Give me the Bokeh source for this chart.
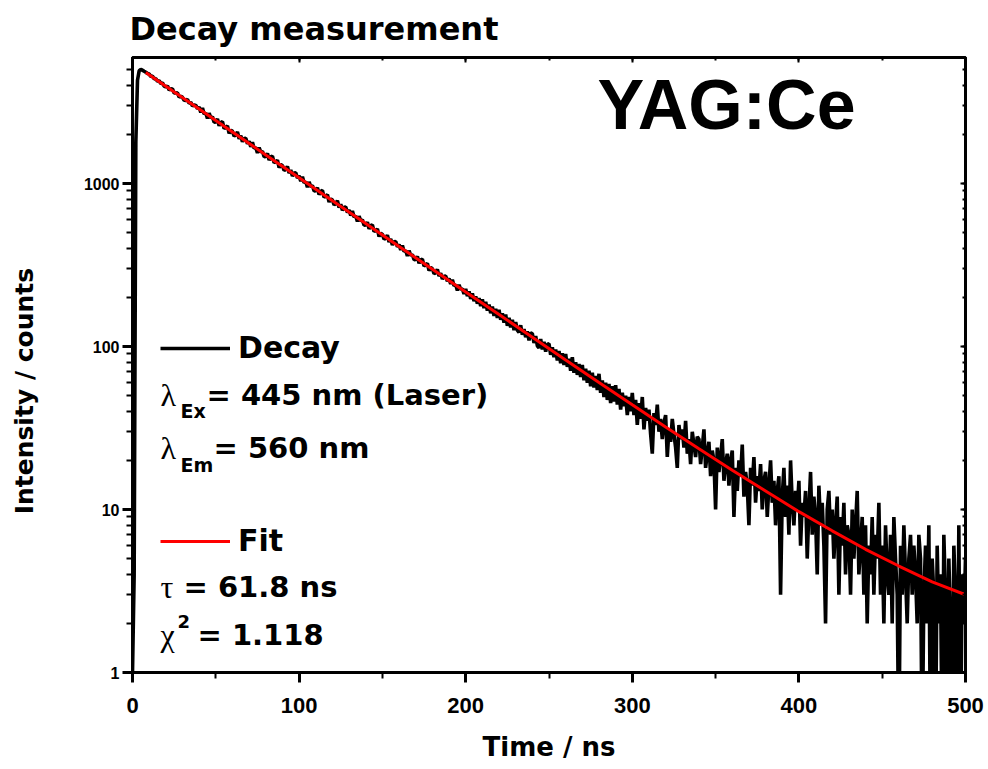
import numpy as np
from bokeh.plotting import figure
from bokeh.models import (Range1d, LinearAxis, LogAxis, Label, Legend, LegendItem,
                          SingleIntervalTicker, LogTicker, PrintfTickFormatter)
from bokeh.embed import file_html
from bokeh.resources import INLINE

# ---- data ----
# measured decay, counts per 1 ns channel, starting at t = 0 ns
decay_counts = [
    1, 4, 1800, 4300, 4920, 5010, 4960, 4880, 4810, 4730,
    4700, 4530, 4560, 4380, 4400, 4230, 4270, 4110, 4140, 3960,
    3913, 3968, 3749, 3805, 3797, 3590, 3589, 3601, 3388, 3436,
    3379, 3242, 3238, 3284, 3103, 3147, 2992, 3032, 3014, 2879,
    2946, 2730, 2906, 2671, 2707, 2505, 2701, 2528, 2564, 2375,
    2384, 2490, 2261, 2365, 2394, 2176, 2209, 2260, 2032, 2126,
    2090, 1955, 1983, 2071, 1881, 1965, 1804, 1885, 1892, 1754,
    1813, 1680, 1789, 1643, 1665, 1542, 1662, 1556, 1578, 1461,
    1467, 1532, 1391, 1456, 1473, 1339, 1359, 1390, 1250, 1308,
    1287, 1204, 1221, 1275, 1158, 1210, 1111, 1161, 1165, 1080,
    1115, 1034, 1100, 1011, 1025, 949, 1022, 957, 971, 900,
    903, 942, 855, 896, 906, 824, 836, 855, 770, 805,
    792, 740, 751, 784, 713, 745, 684, 714, 717, 664,
    687, 636, 678, 623, 631, 584, 630, 590, 598, 554,
    556, 580, 527, 551, 558, 507, 515, 526, 473, 495,
    487, 455, 462, 482, 438, 457, 420, 439, 441, 409,
    422, 391, 417, 383, 388, 359, 387, 362, 367, 341,
    342, 357, 324, 340, 343, 312, 317, 324, 292, 305,
    300, 280, 284, 297, 270, 282, 259, 270, 271, 252,
    261, 242, 257, 236, 239, 221, 239, 224, 226, 210,
    226, 204, 218, 196, 212, 190, 203, 183, 198, 177,
    195, 172, 188, 166, 181, 160, 176, 154, 170, 150,
    168, 146, 160, 140, 157, 134, 150, 131, 146, 126,
    141, 126, 122, 135, 118, 128, 114, 124, 109, 121,
    120, 105, 116, 101, 98, 111, 96, 107, 93, 103,
    104, 89, 99, 86, 96, 82, 94, 79, 91, 77,
    90, 75, 84, 71, 86, 69, 80, 67, 78, 65,
    77, 62, 73, 60, 71, 57, 69, 56, 66, 54,
    68, 52, 62, 49, 60, 47, 59, 45, 57, 46,
    58, 44, 55, 41, 52, 43, 50, 38, 49, 40,
    52, 38, 47, 33, 45, 36, 49, 31, 42, 35,
    41, 29, 22, 39, 33, 44, 30, 36, 27, 34,
    38, 21, 31, 26, 36, 29, 24, 18, 33, 27,
    31, 24, 35, 22, 27, 19, 30, 25, 21, 28,
    27, 19, 24, 31, 18, 22, 26, 16, 23, 20,
    10, 24, 17, 21, 27, 15, 19, 22, 14, 20,
    23, 9, 18, 13, 20, 16, 25, 12, 17, 14,
    8, 18, 14, 21, 11, 16, 13, 19, 10, 15,
    17, 9, 14, 20, 11, 15, 8, 13, 16, 3,
    12, 18, 9, 14, 7, 20, 11, 8, 13, 10,
    15, 6, 11, 9, 13, 5, 10, 17, 7, 12,
    9, 4, 14, 8, 11, 6, 2, 10, 13, 7,
    10, 5, 8, 12, 3, 9, 6, 11, 4, 8,
    7, 3, 10, 5, 8, 13, 4, 6, 9, 3,
    8, 2, 6, 4, 9, 3, 7, 5, 11, 3,
    6, 2, 8, 4, 3, 7, 2, 9, 5, 3,
    0, 6, 3, 8, 4, 2, 5, 7, 3, 6,
    4, 2, 7, 5, 0, 3, 6, 2, 8, 0,
    5, 3, 0, 6, 2, 4, 0, 7, 3, 0,
    5, 2, 0, 6, 3, 0, 8, 0, 4, 2,
    5,
]
channel_width_ns = 1.0
decay_time_ns = [i * channel_width_ns for i in range(len(decay_counts))]

# mono-exponential fit curve (tau = 61.8 ns)
fit_time_ns = [8, 20, 40, 60, 80, 100, 120, 140, 160, 180, 200, 220, 240, 260,
               280, 300, 320, 340, 360, 380, 400, 420, 440, 460, 480, 500]
fit_counts = [4800, 3954, 2861, 2070, 1498, 1084, 785, 568, 411, 298, 216, 157,
              114, 82.7, 60.2, 43.9, 32.1, 23.6, 17.4, 13.0, 9.7, 7.4, 5.7,
              4.5, 3.6, 3.0]

x_major_step = 100

# zero-count channels cannot be shown on a log axis: draw them below the frame
decay_plot = [c if c > 0 else 0.3 for c in decay_counts]

BOLD = "DejaVu Sans"
ARIAL = "Liberation Sans"
SERIF = "Liberation Serif"

X0, X1, Y0, Y1 = 0, 500, 1, 5930
FL, FR, FT, FB = 132, 965, 57, 672   # frame edges in page pixels

p = figure(width=988, height=769, y_axis_type="log",
           x_range=Range1d(X0, X1), y_range=Range1d(Y0, Y1),
           output_backend="svg", toolbar_location=None,
           min_border_left=FL, min_border_right=988 - FR,
           min_border_top=FT, min_border_bottom=769 - FB)
p.background_fill_color = "white"
p.border_fill_color = "white"
p.grid.visible = False
p.outline_line_color = "black"
p.outline_line_width = 3


def xd(px):
    return X0 + (px - FL) * (X1 - X0) / (FR - FL)


def yd(py):
    return 10 ** (np.log10(Y0) + (FB - py) * (np.log10(Y1) - np.log10(Y0)) / (FB - FT))


r_decay = p.line(decay_time_ns, decay_plot, line_color="black", line_width=3.6)
r_fit = p.line(fit_time_ns, fit_counts, line_color="#ff0000", line_width=3)

# bottom axis
xa = p.xaxis[0]
xa.ticker = SingleIntervalTicker(interval=x_major_step, num_minor_ticks=2)
xa.axis_label = "Time / ns"
xa.axis_label_text_font = BOLD
xa.axis_label_text_font_style = "bold"
xa.axis_label_text_font_size = "26px"
xa.axis_label_standoff = 16
xa.major_label_text_font = ARIAL
xa.major_label_text_font_style = "bold"
xa.major_label_text_font_size = "22px"
xa.major_label_standoff = 15

# left axis (trailing no-break spaces push the label a little below centre)
ya = p.yaxis[0]
ya.ticker = LogTicker(num_minor_ticks=10)
ya.formatter = PrintfTickFormatter(format="%d")
ya.axis_label = "Intensity / counts" + "\u00a0" * 6
ya.axis_label_text_font = BOLD
ya.axis_label_text_font_style = "bold"
ya.axis_label_text_font_size = "25px"
ya.axis_label_standoff = 42
ya.major_label_text_font = ARIAL
ya.major_label_text_font_style = "bold"
ya.major_label_text_font_size = "16px"
ya.major_label_standoff = 3

for ax in (xa, ya):
    ax.axis_line_width = 3
    ax.major_tick_line_width = 3
    ax.minor_tick_line_width = 2
    ax.major_tick_out = 10
    ax.major_tick_in = 0
    ax.minor_tick_out = 6
    ax.minor_tick_in = 0
    ax.major_label_text_color = "black"
    ax.axis_label_text_color = "black"

# mirrored axes with inward ticks (labels hidden)
top = LinearAxis(ticker=SingleIntervalTicker(interval=x_major_step, num_minor_ticks=2))
right = LogAxis(ticker=LogTicker(num_minor_ticks=10))
for ax in (top, right):
    ax.major_label_text_alpha = 0
    ax.major_label_text_font_size = "2px"
    ax.major_label_standoff = 0
    ax.axis_line_width = 3
    ax.major_tick_line_width = 2
    ax.minor_tick_line_width = 2
    ax.major_tick_in = 5
    ax.major_tick_out = 0
    ax.minor_tick_in = 3
    ax.minor_tick_out = 0
p.add_layout(top, "above")
p.add_layout(right, "right")

# title
p.title.text = "Decay measurement"
p.title.text_font = BOLD
p.title.text_font_style = "bold"
p.title.text_font_size = "32px"
p.title.text_color = "black"
p.title.align = "left"
p.title.vertical_align = "top"
p.title.standoff = 16
p.title.offset = -3

# legend
legend = Legend(items=[LegendItem(label="Decay", renderers=[r_decay]),
                       LegendItem(label="Fit", renderers=[r_fit])],
                location=(28, 114), orientation="vertical", spacing=158,
                padding=0, margin=0, glyph_width=70, glyph_height=20,
                label_standoff=8, label_text_font=BOLD, label_text_color="black",
                label_text_font_style="bold", label_text_font_size="30px",
                border_line_color=None, background_fill_alpha=0)
p.add_layout(legend)


def lab(px, py, text, size, font=BOLD, style="bold"):
    # px, py: where the text anchor sits on the page
    p.add_layout(Label(x=xd(px), y=yd(py), text=text, text_font=font,
                       text_font_style=style, text_font_size=size,
                       text_color="black", text_align="left",
                       text_baseline="alphabetic"))


lab(597, 104, "YAG:Ce", "70px", font=ARIAL)

lab(160, 394, "λ", "32px", font=SERIF, style="normal")
lab(180, 410, "Ex", "19px")
lab(206, 394, "= 445 nm (Laser)", "29px")

lab(160, 447, "λ", "32px", font=SERIF, style="normal")
lab(180, 464, "Em", "19px")
lab(213, 447, "= 560 nm", "29px")

lab(160, 586, "τ", "32px", font=SERIF, style="normal")
lab(183, 586, "= 61.8 ns", "29px")

lab(160, 634, "χ", "32px", font=SERIF, style="normal")
lab(177, 621, "2", "18px")
lab(197, 634, "= 1.118", "29px")

open("out.html", "w").write(file_html(p, INLINE))
